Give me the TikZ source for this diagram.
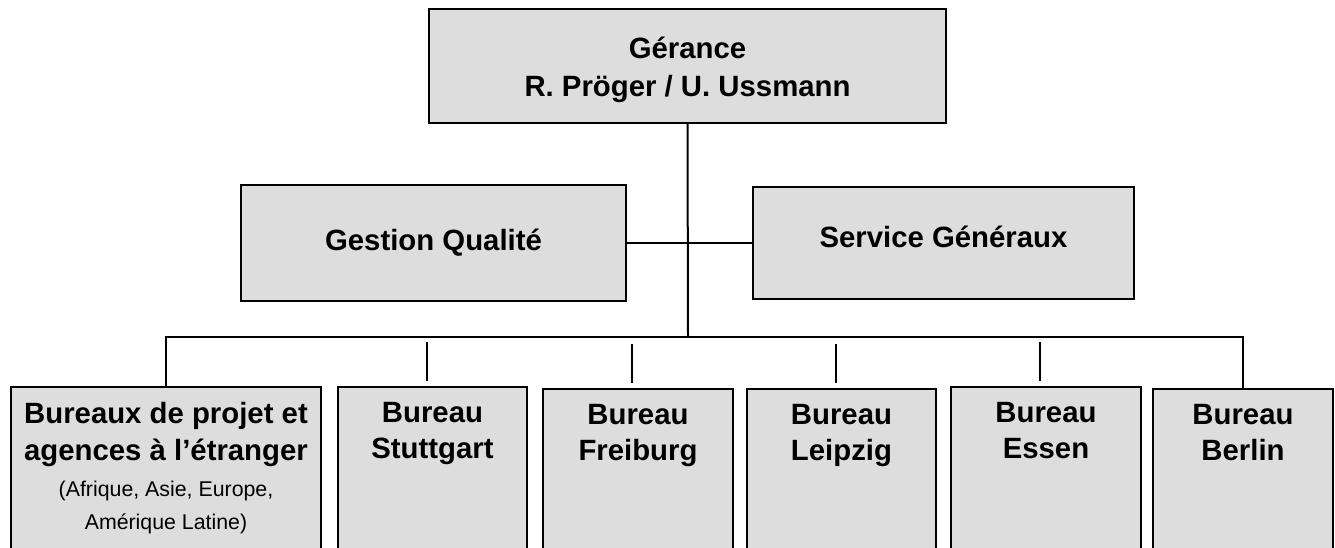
\documentclass[tikz,border=0pt]{standalone}
\usepackage{fontspec}
\setmainfont{Liberation Sans}
\usetikzlibrary{positioning}
\definecolor{boxgray}{RGB}{221,221,221}

\begin{document}
\begin{tikzpicture}[x=0.75pt,y=-0.75pt,line width=1.5pt,
  orgbox/.style={rectangle,draw,fill=boxgray,align=center,
    font=\fontsize{22}{27.5}\selectfont\bfseries},
  office/.style={orgbox,anchor=north,minimum height=140pt},
  officetext/.style={align=center,anchor=north,yshift=-8pt,
    font=\fontsize{22}{27.5}\selectfont\bfseries}]

  \useasboundingbox (0,0) rectangle (1335,548);

  \node[orgbox,minimum width=387.75pt,minimum height=85.5pt] (gerance) at (687.5,66)
    {\rule{0pt}{22pt}Gérance\\[1pt]R. Pröger / U. Ussmann};
  \node[orgbox,minimum width=288.75pt,minimum height=87pt] (qualite) at (433.5,243) {Gestion Qualité};
  \node[orgbox,minimum width=285.75pt,minimum height=84pt] (services) at (943.5,243)
    {\raisebox{10pt}{Service Généraux}};

  \node[office,minimum width=232.5pt,label={[officetext]north:{Bureaux de projet et\\agences à l’étranger\\
    \mdseries\fontsize{16}{20}\selectfont(Afrique, Asie, Europe,\\[-2.8pt]
    \mdseries\fontsize{16}{20}\selectfont Amérique Latine)}}] (etranger) at (166,386) {};
  \node[office,minimum width=141.75pt,label={[officetext]north:{Bureau\\Stuttgart}}] (stuttgart) at (432.5,386) {};
  \node[office,minimum width=142.5pt,label={[officetext]north:{Bureau\\Freiburg}}] (freiburg) at (638,388) {};
  \node[office,minimum width=141.75pt,label={[officetext]north:{Bureau\\Leipzig}}] (leipzig) at (841.5,388) {};
  \node[office,minimum width=142.5pt,label={[officetext]north:{Bureau\\Essen}}] (essen) at (1046,386) {};
  \node[office,minimum width=135pt,label={[officetext]north:{Bureau\\Berlin}}] (berlin) at (1243,388) {};

  \coordinate (bus) at (688,337);

  % lines
  \draw (gerance.south) -- (bus);
  \draw (qualite.east) -- (services.west);
  \draw (etranger.north) |- (bus) -| (berlin.north);
  \foreach \b in {stuttgart,freiburg,leipzig,essen}
    \draw ([xshift=-4.5pt,yshift=3.75pt]\b.north) -- ([xshift=-4.5pt,yshift=33pt]\b.north);

\end{tikzpicture}
\end{document}
